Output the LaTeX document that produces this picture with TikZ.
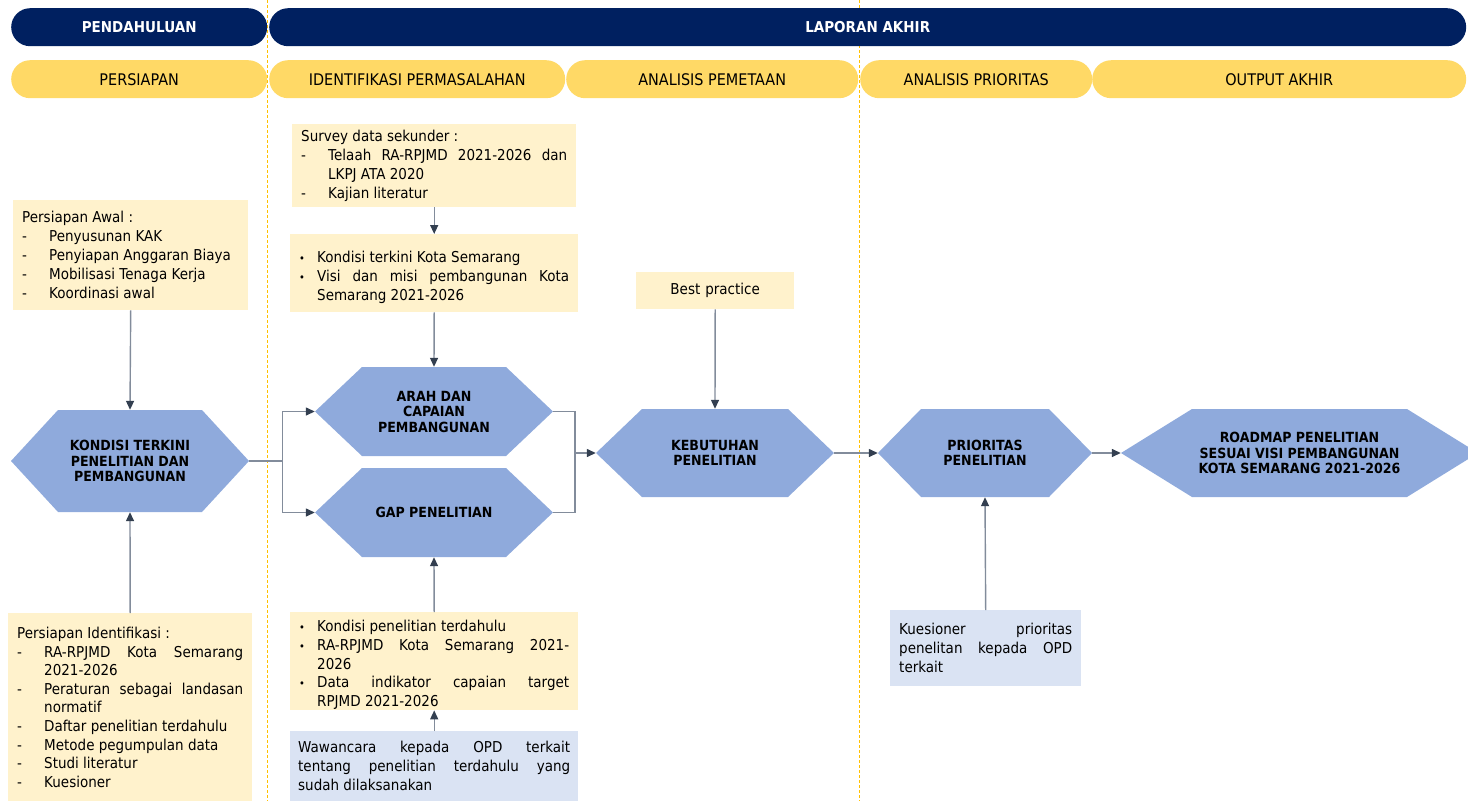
\documentclass[tikz,border=0pt]{standalone}
\usepackage{fontspec}
\setmainfont{DejaVu Sans}[FakeStretch=0.9]
\usetikzlibrary{arrows.meta}
\definecolor{navy}{RGB}{0,32,96}
\definecolor{kuning}{RGB}{255,217,102}
\definecolor{krem}{RGB}{255,242,204}
\definecolor{biru}{RGB}{218,227,243}
\definecolor{hexbiru}{RGB}{143,170,220}
\definecolor{oranye}{RGB}{255,192,0}
\definecolor{garis}{RGB}{130,140,155}
\definecolor{ujung}{RGB}{51,63,80}
\setlength{\parindent}{0pt}
\hyphenpenalty=10000
\exhyphenpenalty=10000
\newcommand{\garisitem}[1]{\par\hangindent=27pt\hangafter=1\makebox[27pt][l]{-}#1\par}
\newcommand{\titikitem}[1]{\par\hangindent=18pt\hangafter=1\makebox[18pt][l]{\fontsize{11}{11}\selectfont\textbullet}#1\par}
\begin{document}
\begin{tikzpicture}[x=1pt, y=-1pt,
	judul/.style={fill=navy, text=white, font=\fontsize{15}{18}\selectfont\bfseries, rounded corners=19pt, minimum height=38pt, inner sep=0pt, anchor=north west},
	tahap/.style={fill=kuning, font=\fontsize{16}{18}\selectfont, rounded corners=19pt, minimum height=38pt, inner sep=0pt, anchor=north west},
	kotak/.style={fill=krem, font=\fontsize{15}{19}\selectfont, align=justify, inner xsep=9pt, inner ysep=3pt, anchor=north west},
	kotakbiru/.style={kotak, fill=biru},
	hexa/.style={inner sep=0pt, align=center, font=\fontsize{14}{15.5}\selectfont\bfseries,
		path picture={\fill[hexbiru] (path picture bounding box.west) -- ([xshift=#1]path picture bounding box.north west)
			-- ([xshift=-#1]path picture bounding box.north east) -- (path picture bounding box.east)
			-- ([xshift=-#1]path picture bounding box.south east) -- ([xshift=#1]path picture bounding box.south west) -- cycle;}},
	hubung/.style={draw=garis, line width=1.4pt},
	panah/.style={hubung, -{Triangle[length=9pt, width=8pt, color=ujung]}},
	batas/.style={draw=oranye, line width=0.9pt, dash pattern=on 3pt off 2pt}]
	\useasboundingbox (0,0) rectangle (1468,801);

	% --- batas tahap ---
	\draw[batas] (267,0) -- (267,801);
	\draw[batas] (859,0) -- (859,801);

	% --- judul dan tahap ---
	\node[judul, minimum width=256] (pendahuluan) at (11,8) {PENDAHULUAN};
	\node[judul, minimum width=1197] (laporan) at (269,8) {LAPORAN AKHIR};
	\node[tahap, minimum width=256] (persiapan) at (11,60) {PERSIAPAN};
	\node[tahap, minimum width=296] (permasalahan) at (269,60) {IDENTIFIKASI PERMASALAHAN};
	\node[tahap, minimum width=292] (pemetaan) at (566,60) {ANALISIS PEMETAAN};
	\node[tahap, minimum width=232] (analisis) at (860,60) {ANALISIS PRIORITAS};
	\node[tahap, minimum width=374] (output) at (1092,60) {OUTPUT AKHIR};

	% --- kolom persiapan ---
	\node[kotak, text width=217, minimum height=110] (awal) at (13,200) {Persiapan Awal :
		\garisitem{Penyusunan KAK}
		\garisitem{Penyiapan Anggaran Biaya}
		\garisitem{Mobilisasi Tenaga Kerja}
		\garisitem{Koordinasi awal}};
	\node[kotak, text width=226, minimum height=188, font=\fontsize{15}{18.6}\selectfont] (identifikasi) at (8,613) {Persiapan Identifikasi :
		\garisitem{RA-RPJMD Kota Semarang\linebreak 2021-2026}
		\garisitem{Peraturan sebagai landasan\linebreak normatif}
		\garisitem{Daftar penelitian terdahulu}
		\garisitem{Metode pegumpulan data}
		\garisitem{Studi literatur}
		\garisitem{Kuesioner}};
	\node[hexa=47, minimum width=238, minimum height=102] (kondisi) at (130,461) {KONDISI TERKINI\\PENELITIAN DAN\\PEMBANGUNAN};

	% --- kolom identifikasi permasalahan ---
	\node[kotak, text width=266, minimum height=83] (survey) at (292,124) {Survey data sekunder :
		\garisitem{Telaah RA-RPJMD 2021-2026 dan\linebreak LKPJ ATA 2020}
		\garisitem{Kajian literatur}};
	\node[kotak, text width=270, minimum height=78] (terkini) at (290,234) {%
		\titikitem{Kondisi terkini Kota Semarang}
		\titikitem{Visi dan misi pembangunan Kota\linebreak Semarang 2021-2026}};
	\node[hexa=47, minimum width=238, minimum height=89] (arah) at (434,411.5) {ARAH DAN\\CAPAIAN\\PEMBANGUNAN};
	\node[hexa=47, minimum width=238, minimum height=89] (gap) at (434,512.5) {GAP PENELITIAN};
	\node[kotak, text width=270, inner ysep=1pt, minimum height=95, font=\fontsize{15}{18.6}\selectfont] (terdahulu) at (290,612) {%
		\titikitem{Kondisi penelitian terdahulu}
		\titikitem{RA-RPJMD Kota Semarang 2021-\linebreak 2026}
		\titikitem{Data indikator capaian target\linebreak RPJMD 2021-2026}};
	\node[kotakbiru, text width=272, inner xsep=8pt, minimum height=70] (wawancara) at (290,731) {Wawancara kepada OPD terkait\linebreak tentang penelitian terdahulu yang\linebreak sudah dilaksanakan};

	% --- kolom analisis pemetaan ---
	\node[kotak, align=center, text width=140, minimum height=37] (best) at (636,272) {Best practice};
	\node[hexa=46, minimum width=238, minimum height=88] (kebutuhan) at (715,453) {KEBUTUHAN\\PENELITIAN};

	% --- kolom analisis prioritas dan output ---
	\node[hexa=43, minimum width=214, minimum height=88] (prioritas) at (985,453) {PRIORITAS\\PENELITIAN};
	\node[kotakbiru, text width=173, minimum height=76] (kuesioner) at (890,610) {Kuesioner prioritas\linebreak penelitan kepada OPD\linebreak terkait};
	\node[hexa=71, minimum width=357, minimum height=88] (roadmap) at (1299.5,453) {ROADMAP PENELITIAN\\SESUAI VISI PEMBANGUNAN\\KOTA SEMARANG 2021-2026};

	% --- panah ---
	\draw[panah] (awal.south) -- (kondisi.north);
	\draw[panah] (identifikasi.north) -- (kondisi.south);
	\draw[hubung] (kondisi.east) -- ++(33,0) coordinate (cabang);
	\draw[panah] (cabang) |- (arah.west);
	\draw[panah] (cabang) |- (gap.west);
	\draw[panah] (survey.south) -- (terkini.north);
	\draw[panah] (terkini.south) -- (arah.north);
	\draw[panah] (terdahulu.north) -- (gap.south);
	\draw[panah] (wawancara.north) -- (terdahulu.south);
	\coordinate (gabung) at (575,453);
	\draw[hubung] (arah.east) -| (gabung);
	\draw[hubung] (gap.east) -| (gabung);
	\draw[panah] (gabung) -- (kebutuhan.west);
	\draw[panah] (best.south) -- (kebutuhan.north);
	\draw[panah] (kebutuhan.east) -- (prioritas.west);
	\draw[panah] (kuesioner.north) -- (prioritas.south);
	\draw[panah] (prioritas.east) -- (roadmap.west);
\end{tikzpicture}
\end{document}
